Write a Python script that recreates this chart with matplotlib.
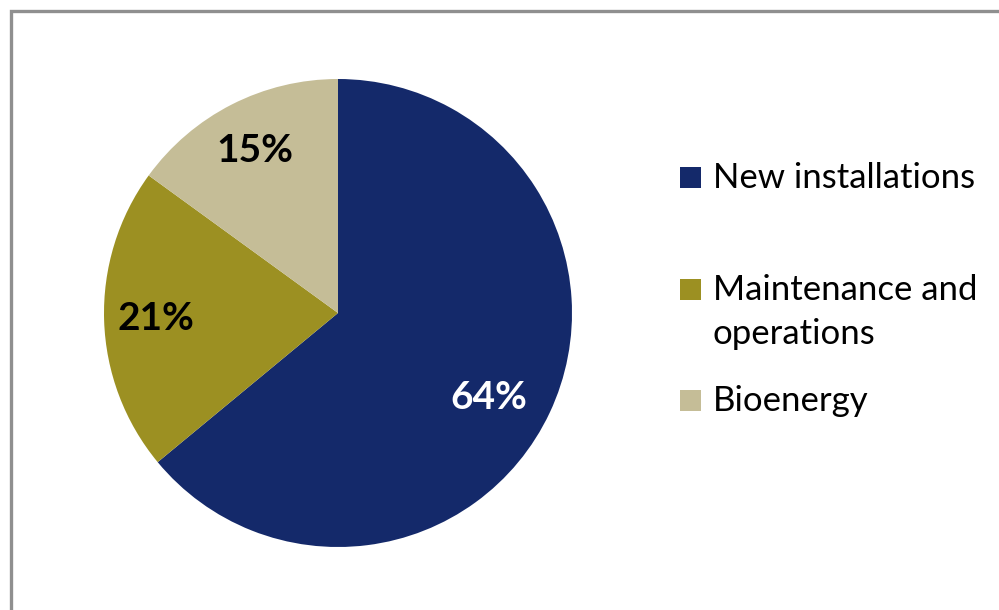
"""
Pie chart: share of jobs by segment
"""

import numpy as np
import matplotlib.pyplot as plt
from matplotlib.patches import Rectangle

# data
labels = ['New installations', 'Maintenance and\noperations', 'Bioenergy']
shares = [64, 21, 15]
colors = ['#14296a', '#9c9022', '#c5bd97']
pct_colors = ['white', 'black', 'black']

W, H = 999, 610
fig = plt.figure(figsize=(W / 100, H / 100), dpi=100)

# grey frame, cut off at the right and bottom edges
fig.patches.append(Rectangle((11 / W, -0.05), 1.05, 1 - 11 / H + 0.05,
                             transform=fig.transFigure, fill=False,
                             edgecolor='#8f8f8f', linewidth=2.4))

# pie axes centred at pixel (338, 313) with radius 234
cx, cy, r = 338, 313, 234
ax = fig.add_axes([(cx - r) / W, (H - cy - r) / H, 2 * r / W, 2 * r / H])
wedges, texts, autotexts = ax.pie(shares, colors=colors, startangle=90,
                                  counterclock=False, autopct='%d%%',
                                  pctdistance=0.78,
                                  wedgeprops=dict(linewidth=0))
for t, c in zip(autotexts, pct_colors):
    t.set_color(c)
    t.set_fontsize(28)
    t.set_fontweight('bold')
    t.set_family('Lato')

# the big label sits a little lower and further in than the wedge middle
w = wedges[0]
mid = np.deg2rad((w.theta1 + w.theta2) / 2 - 4)
autotexts[0].set_position((0.74 * np.cos(mid), 0.74 * np.sin(mid)))

ax.set_xlim(-1, 1)
ax.set_ylim(-1, 1)
ax.set_aspect('equal')
ax.axis('off')

# legend drawn by hand to match the spacing of the original
legend_y = [178, 290, 401]
for lab, col, y in zip(labels, colors, legend_y):
    fig.patches.append(Rectangle((680 / W, 1 - (y + 10) / H), 21 / W, 21 / H,
                                 transform=fig.transFigure, facecolor=col,
                                 edgecolor='none'))
    fig.text(713 / W, 1 - (y - 16) / H, lab, fontsize=25, family='Lato',
             color='black', va='top', ha='left', linespacing=1.45)

fig.savefig('out.png', dpi=100)
